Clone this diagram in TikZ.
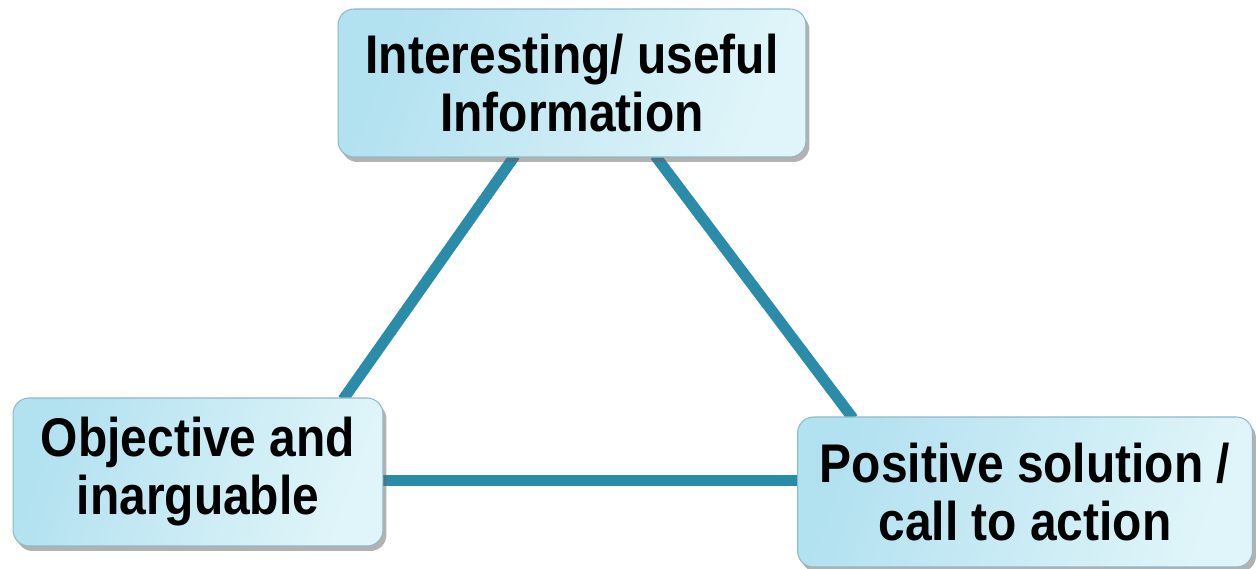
\documentclass[tikz,border=0pt]{standalone}
\usepackage{fontspec}
\setmainfont{Liberation Sans}
\newfontfamily\boxfont[FakeStretch=0.88]{Liberation Sans Bold}
\usetikzlibrary{calc,shadows,backgrounds}
\definecolor{linkc}{HTML}{2B8CAA}
\definecolor{boxa}{HTML}{B2E1F0}
\definecolor{boxb}{HTML}{E0F5F9}
\definecolor{boxedge}{HTML}{8FB9C6}
\tikzset{
  pbox/.style={rectangle, rounded corners=0.32cm, draw=boxedge, line width=0.6pt,
    left color=boxa, right color=boxb, shading angle=70,
    drop shadow={shadow xshift=0.07cm, shadow yshift=-0.1cm, fill=black!60, opacity=0.5},
    align=center, inner sep=0pt,
    font=\boxfont\fontsize{31}{33}\selectfont},
  link/.style={draw=linkc, line width=0.22cm}
}
\begin{document}
\begin{tikzpicture}[x=0.02cm,y=-0.02cm]
\useasboundingbox (0,0) rectangle (1256,568);
\node[pbox, minimum width=9.36cm, minimum height=2.96cm] (top) at (572,83)
  {Interesting/ useful\\Information};
\node[pbox, minimum width=7.4cm, minimum height=2.96cm] (left) at (198,472)
  {Objective and\\inarguable};
\node[pbox, minimum width=9.1cm, minimum height=3.0cm] (right) at (1025,492)
  {Positive solution /\\call to action};
\begin{scope}[on background layer]
\fill[white] (0,0) rectangle (1256,568);
\draw[link] ($(top.south)+(-57,-2)$) -- ($(left.north)+(145,2)$);
\draw[link] ($(top.south)+(83,-2)$) -- ($(right.north)+(-172,2)$);
\draw[link] ($(left.east)+(-2,8)$) -- ($(right.west |- left.east)+(2,8)$);
\end{scope}
\end{tikzpicture}
\end{document}
